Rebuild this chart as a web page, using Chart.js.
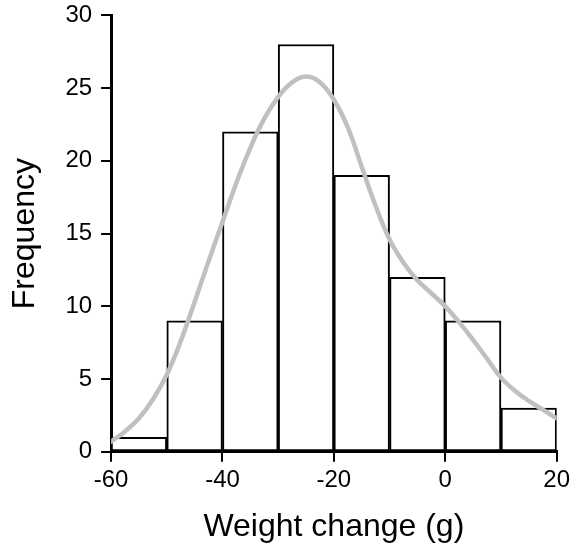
<!DOCTYPE html>
<html>
<head>
<meta charset="utf-8">
<script src="https://cdn.jsdelivr.net/npm/chart.js@4.4.1/dist/chart.umd.min.js"></script>
<style>
  body { margin: 0; background: #fff; overflow: hidden; }
  #histChart { display: block; margin-top: -8px; }
</style>
</head>
<body>
<canvas id="histChart" width="574" height="556"></canvas>
<script>
// histogram bins (centres) and counts
const binCentres = [-55, -45, -35, -25, -15, -5, 5, 15];
const counts = [1, 9, 22, 28, 19, 12, 9, 3];

// smoothed density curve
const curveX = [-60, -57.5, -55, -52.5, -50, -47.5, -45, -42.5, -40, -37.5, -35, -32.5, -30, -27.5, -25, -22.5,
    -20, -17.5, -15, -12.5, -10, -7.5, -5, -2.5, 0, 2.5, 5, 7.5, 10, 12.5, 15, 17.5, 20];
const curveY = [0.7, 1.4, 2.3, 3.6, 5.3, 7.6, 10.3, 13.1, 15.8, 18.5, 20.9, 22.9, 24.4, 25.4, 25.8, 25.4,
    24.2, 22.3, 19.6, 16.9, 14.6, 13.0, 11.8, 10.9, 10.0, 8.9, 7.7, 6.4, 5.1, 4.2, 3.5, 2.9, 2.3];

// axis ranges and tick steps
const xRange = [-60, 20];
const xStep = 20;
const yRange = [0, 30];
const yStep = 5;

const font = 'Liberation Sans, Arial, sans-serif';
Chart.defaults.font.family = font;
Chart.defaults.color = '#000';

const ctx = document.getElementById('histChart').getContext('2d');
new Chart(ctx, {
    data: {
        datasets: [{
            type: 'line',
            data: curveX.map((x, i) => ({ x: x, y: curveY[i] })),
            borderColor: '#c0c0c0',
            borderWidth: 4.5,
            borderCapStyle: 'round',
            pointRadius: 0,
            tension: 0.4,
            fill: false,
            order: 0
        }, {
            type: 'bar',
            data: binCentres.map((x, i) => ({ x: x, y: counts[i] })),
            backgroundColor: '#fff',
            borderColor: '#000',
            borderWidth: 2,
            borderSkipped: false,
            barPercentage: 1,
            categoryPercentage: 1,
            order: 1
        }]
    },
    options: {
        responsive: false,
        animation: false,
        layout: { padding: { left: 6, right: 0, top: 0, bottom: 2 } },
        plugins: { legend: { display: false }, tooltip: { enabled: false } },
        scales: {
            x: {
                type: 'linear',
                min: xRange[0],
                max: xRange[1],
                offset: false,
                grid: { display: true, offset: false, drawOnChartArea: false, drawTicks: true, tickLength: 10, color: '#000', lineWidth: 2 },
                border: { display: true, color: '#000', width: 3 },
                ticks: { stepSize: xStep, autoSkip: false, maxRotation: 0, padding: 4, color: '#000', font: { size: 24 } },
                title: { display: true, text: 'Weight change (g)', color: '#000', font: { size: 32 }, padding: { top: 9, bottom: 0 } }
            },
            y: {
                type: 'linear',
                min: yRange[0],
                max: yRange[1],
                grid: { display: true, offset: false, drawOnChartArea: false, drawTicks: true, tickLength: 10, color: '#000', lineWidth: 2 },
                border: { display: true, color: '#000', width: 3 },
                ticks: { stepSize: yStep, autoSkip: false, padding: 9, color: '#000', font: { size: 24 } },
                title: { display: true, text: 'Frequency', color: '#000', font: { size: 32 }, padding: { top: 0, bottom: 12 } }
            }
        }
    }
});
</script>
</body>
</html>
